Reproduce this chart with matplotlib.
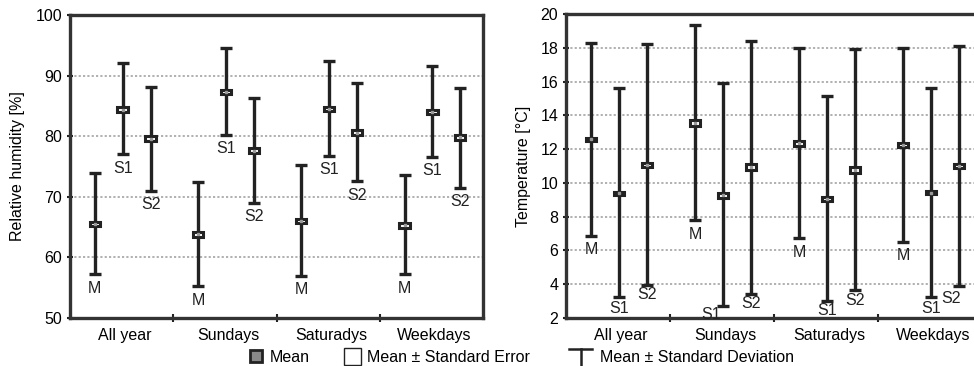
import matplotlib.pyplot as plt
import numpy as np
from matplotlib.patches import Rectangle
from matplotlib.lines import Line2D

plt.rcParams['font.family'] = ['Liberation Sans', 'DejaVu Sans']

groups = ['All year', 'Sundays', 'Saturadys', 'Weekdays']
series = ['M', 'S1', 'S2']

# relative humidity [%]: mean, mean-SD, mean+SD, SE  (rows = groups, cols = M, S1, S2)
rh_mean = [[65.5, 84.4, 79.6], [63.8, 87.3, 77.6], [66.0, 84.5, 80.6], [65.3, 84.0, 79.8]]
rh_low = [[57.2, 77.0, 71.0], [55.2, 80.2, 69.0], [57.0, 76.8, 72.6], [57.2, 76.6, 71.5]]
rh_high = [[74.0, 92.0, 88.2], [72.5, 94.5, 86.3], [75.3, 92.4, 88.7], [73.6, 91.6, 88.0]]
rh_se = [[0.4, 0.4, 0.4], [0.4, 0.4, 0.4], [0.4, 0.4, 0.4], [0.4, 0.4, 0.4]]

# temperature [deg C]
t_mean = [[12.58, 9.39, 11.06], [13.55, 9.27, 10.93], [12.34, 9.05, 10.77], [12.25, 9.43, 11.0]]
t_low = [[6.87, 3.22, 3.97], [7.79, 2.69, 3.44], [6.71, 2.99, 3.64], [6.51, 3.22, 3.87]]
t_high = [[18.3, 15.64, 18.2], [19.34, 15.89, 18.39], [18.0, 15.16, 17.92], [18.0, 15.64, 18.1]]
t_se = [[0.1, 0.1, 0.1], [0.18, 0.14, 0.18], [0.15, 0.14, 0.16], [0.12, 0.1, 0.1]]

W, H = 974, 366
fig = plt.figure(figsize=(W / 100, H / 100), dpi=100)
dark = '#222222'
offsets = [0.24, 0.51, 0.78]
fs = 11.5


def panel(rect, mean, low, high, se, ylim, yticks, ylabel, lab_off):
    ax = fig.add_axes(rect)
    ax.set_xlim(0, 4)
    ax.set_ylim(*ylim)
    for g in range(len(groups)):
        for s in range(len(series)):
            x = g + offsets[s]
            m = mean[g][s]
            ax.errorbar([x], [m], yerr=[[m - low[g][s]], [high[g][s] - m]],
                        fmt='none', ecolor=dark, elinewidth=2.4, capsize=4,
                        capthick=2.4, zorder=3)
            box = Rectangle((x - 0.05, m - se[g][s]), 0.10, 2 * se[g][s],
                            facecolor='white', edgecolor=dark, lw=2.2, zorder=4)
            ax.add_patch(box)
            ax.plot([x], [m], marker='s', ms=2, color='#999999', zorder=5)
            dx, dy = lab_off.get((g, s), (0, -14))
            ax.annotate(series[s], (x, low[g][s]), xytext=(dx, dy),
                        textcoords='offset pixels', ha='center', va='center',
                        fontsize=fs, color=dark, annotation_clip=False)
    ax.set_yticks(yticks)
    ax.set_yticklabels([str(v) for v in yticks], fontsize=fs)
    for v in yticks[1:-1]:
        ax.axhline(v, color='#aaaaaa', lw=1.3, ls=(0, (1.2, 1.2)), zorder=1)
    ax.set_xticks([1, 2, 3])
    ax.set_xticklabels([])
    ax.set_xticks(np.arange(4) + 0.53, minor=True)
    ax.set_xticklabels(groups, minor=True, fontsize=fs)
    ax.tick_params(axis='x', which='minor', length=0, pad=7)
    ax.tick_params(axis='x', which='major', direction='inout', length=6, width=1.5, color=dark)
    ax.tick_params(axis='y', direction='inout', length=5, width=1.5, color=dark, pad=3)
    for sp in ax.spines.values():
        sp.set_linewidth(2.4)
        sp.set_color('#333333')
    ax.set_ylabel(ylabel, fontsize=fs)
    return ax


ax1 = panel([70 / W, (H - 318) / H, (483 - 70) / W, (318 - 15) / H],
            rh_mean, rh_low, rh_high, rh_se, (50, 100), [50, 60, 70, 80, 90, 100],
            'Relative humidity [%]', {})
ax1.yaxis.set_label_coords(-0.11, 0.5)

t_off = {(1, 1): (-12, -8), (2, 1): (0, -9), (0, 1): (0, -11), (3, 1): (0, -11),
         (0, 2): (0, -10), (1, 2): (0, -10), (2, 2): (0, -10), (3, 2): (-8, -12)}
ax2 = panel([566 / W, (H - 318) / H, (982 - 566) / W, (318 - 14) / H],
            t_mean, t_low, t_high, t_se, (2, 20), list(range(2, 21, 2)),
            'Temperature [°C]', t_off)
ax2.yaxis.set_label_coords(-0.085, 0.5)

# legend along the bottom
ty = (H - 358) / H
fig.patches.append(Rectangle((250 / W, (H - 362) / H), 12 / W, 12 / H, transform=fig.transFigure,
                             facecolor='#888888', edgecolor=dark, lw=2))
fig.text(270 / W, ty, 'Mean', fontsize=fs, va='center')
fig.patches.append(Rectangle((344 / W, (H - 365) / H), 17 / W, 17 / H, transform=fig.transFigure,
                             facecolor='white', edgecolor=dark, lw=1))
fig.text(367 / W, ty, 'Mean ± Standard Error', fontsize=fs, va='center')
fig.lines.append(Line2D([569 / W, 592 / W], [(H - 349) / H] * 2, transform=fig.transFigure,
                        color=dark, lw=1.8))
fig.lines.append(Line2D([580.5 / W] * 2, [(H - 349) / H, -0.01], transform=fig.transFigure,
                        color=dark, lw=1.8))
fig.text(600 / W, ty, 'Mean ± Standard Deviation', fontsize=fs, va='center')

plt.savefig('out.png', dpi=100)
